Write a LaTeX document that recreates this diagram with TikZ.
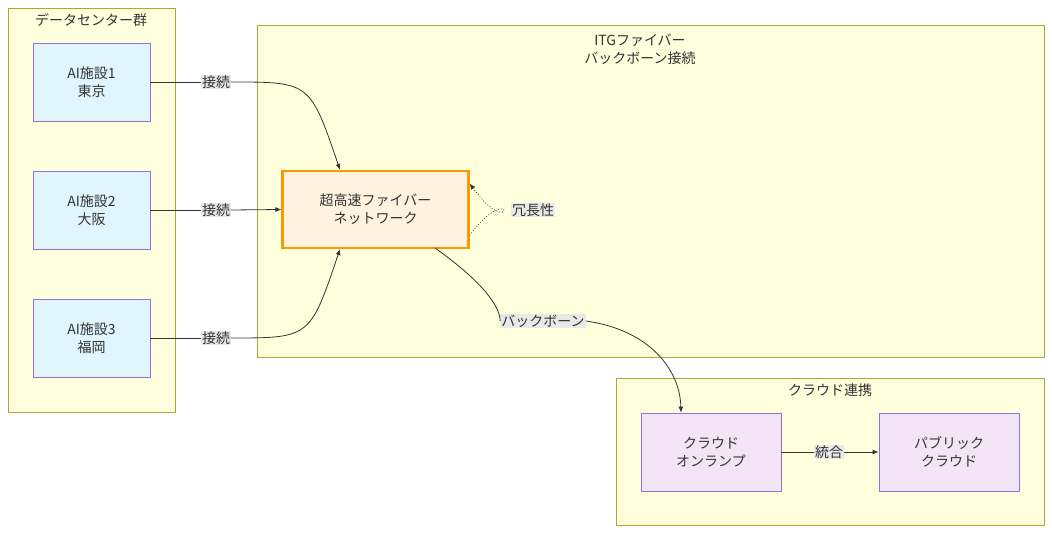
\documentclass[tikz,border=0pt]{standalone}
\usepackage{fontspec}
\setmainfont{Noto Sans CJK JP}
\usetikzlibrary{arrows.meta}
\definecolor{clf}{HTML}{FFFFDE}\definecolor{cls}{HTML}{AAAA33}
\definecolor{nf}{HTML}{E1F5FE}\definecolor{ns}{HTML}{9370DB}
\definecolor{of}{HTML}{FFF3E0}\definecolor{os}{HTML}{FF9800}
\definecolor{pf}{HTML}{F3E5F5}\definecolor{lb}{HTML}{E8E8E8}
\definecolor{ln}{HTML}{333333}
\begin{document}
\begin{tikzpicture}[x=1pt,y=-1pt,
 every node/.style={font=\fontsize{14}{18}\selectfont,text=ln,align=center},
 cluster/.style={draw=cls,fill=clf,line width=0.8pt},
 box/.style={draw=ns,fill=nf,line width=0.8pt,minimum width=117pt,minimum height=78pt,inner sep=0},
 cbox/.style={box,fill=pf,minimum width=140pt},
 lab/.style={fill=lb,inner sep=1pt},
 edge/.style={draw=ln,line width=0.8pt,-{Latex[length=6pt,width=5pt]}}]
\useasboundingbox (0,0) rectangle (1052,534);
\draw[cluster] (8,8) rectangle (175,412);
\draw[cluster] (257,25) rectangle (1044,357);
\draw[cluster] (616,378) rectangle (1044,525);
\node (t1) at (91,20) {データセンター群};
\node (t2) at (640,49) {ITGファイバー\\バックボーン接続};
\node (t3) at (830,390) {クラウド連携};
\node[box] (tk) at (91.5,82) {AI施設1\\東京};
\node[box] (os) at (91.5,210) {AI施設2\\大阪};
\node[box] (fk) at (91.5,338) {AI施設3\\福岡};
\node[box,draw=os,fill=of,line width=2.2pt,minimum width=186pt,minimum height=77pt] (fb) at (375.5,209.5) {超高速ファイバー\\ネットワーク};
\node[cbox] (op) at (711,452) {クラウド\\オンランプ};
\node[cbox] (pc) at (949,452) {パブリック\\クラウド};
\coordinate (a1) at (340,171);
\coordinate (a3) at (340,248);
\node[lab] (l1) at (216,82) {接続};
\node[lab] (l2) at (216,210) {接続};
\node[lab] (l3) at (216,338) {接続};
\node[lab] (l4) at (533,210) {冗長性};
\node[lab] (l5) at (543,321) {バックボーン};
\node[lab] (l6) at (829,452) {統合};
\draw[draw=ln,line width=0.8pt] (tk.east) -- (l1.west);
\draw[edge] (l1.east) .. controls (310,82) .. (fb.north -| a1);
\draw[draw=ln,line width=0.8pt] (os.east) -- (l2.west);
\draw[edge] (l2.east) -- (fb.west);
\draw[draw=ln,line width=0.8pt] (fk.east) -- (l3.west);
\draw[edge] (l3.east) .. controls (310,338) .. (fb.south -| a3);
\draw[edge,dotted] ([yshift=-26pt]fb.east) .. controls (515,175) and (515,245) .. ([yshift=26pt]fb.east);
\draw[draw=ln,line width=0.8pt] (435,248) .. controls (480,280) and (500,305) .. (l5.west);
\draw[edge] (l5.east) .. controls (650,330) and (680,370) .. (op.north -| 681,0);
\draw[draw=ln,line width=0.8pt] (op.east) -- (l6.west);
\draw[edge] (l6.east) -- (pc.west);
\end{tikzpicture}
\end{document}
